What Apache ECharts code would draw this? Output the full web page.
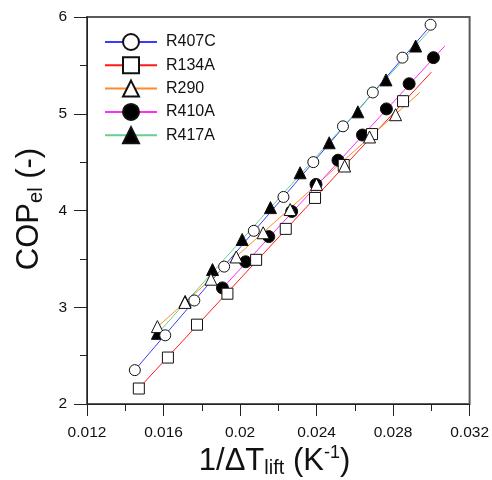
<!DOCTYPE html>
<html><head><meta charset="utf-8">
<script src="https://cdn.jsdelivr.net/npm/echarts@6/dist/echarts.min.js"></script>
<style>html,body{margin:0;padding:0;background:#fff}#c{width:492px;height:480px}</style>
</head><body><div id="c"></div>
<script>
const seriesNames = ['R407C', 'R134A', 'R290', 'R410A', 'R417A'];
// measured points [1/dT_lift, COP_el]
const r407cX = [0.0145, 0.01609, 0.01761, 0.01917, 0.02072, 0.02227, 0.02383, 0.02538, 0.02694, 0.02849, 0.02996];
const r407cY = [2.35, 2.71, 3.07, 3.42, 3.79, 4.14, 4.50, 4.87, 5.22, 5.58, 5.92];
const r134aX = [0.01471, 0.01623, 0.01775, 0.01934, 0.02084, 0.02239, 0.02392, 0.02542, 0.0269, 0.02852];
const r134aY = [2.16, 2.48, 2.82, 3.14, 3.49, 3.81, 4.13, 4.47, 4.79, 5.13];
const r290X = [0.01568, 0.01712, 0.01848, 0.0198, 0.02121, 0.02262, 0.024, 0.02547, 0.02677, 0.02813];
const r290Y = [2.80, 3.05, 3.29, 3.52, 3.77, 4.01, 4.27, 4.46, 4.76, 4.99];
const r410aX = [0.01908, 0.02029, 0.0215, 0.0227, 0.02397, 0.02512, 0.0264, 0.02765, 0.02884, 0.03011];
const r410aY = [3.20, 3.47, 3.73, 3.99, 4.27, 4.52, 4.78, 5.05, 5.31, 5.58];
const r417aX = [0.01568, 0.01713, 0.01856, 0.02011, 0.02159, 0.02314, 0.02466, 0.02616, 0.02763, 0.02918];
const r417aY = [2.73, 3.06, 3.39, 3.70, 4.03, 4.39, 4.70, 5.02, 5.35, 5.70];
// fitted lines: [start, end]
const fitR407cX = [0.0145, 0.0300];  const fitR407cY = [2.35, 5.92];
const fitR134aX = [0.0147, 0.0300];  const fitR134aY = [2.16, 5.43];
const fitR290X  = [0.0157, 0.0294];  const fitR290Y  = [2.80, 5.22];
const fitR410aX = [0.0191, 0.0307];  const fitR410aY = [3.20, 5.70];
const fitR417aX = [0.0157, 0.0299];  const fitR417aY = [2.73, 5.86];
const xTickLabels = ['0.012', '0.016', '0.02', '0.024', '0.028', '0.032'];
const yTickLabels = ['2', '3', '4', '5', '6'];

const zip = (xs, ys) => xs.map((x, i) => [x, ys[i]]);
const FONT = '"Liberation Sans", Arial, sans-serif';

const styles = {
  R407C: {line: '#3b3bff', symbol: 'circle', fill: '#ffffff', size: 11},
  R134A: {line: '#ff1a1a', symbol: 'rect', fill: '#ffffff', size: 11},
  R290:  {line: '#ff8a2a', symbol: 'triangle', fill: '#ffffff', size: 12},
  R410A: {line: '#ff2bff', symbol: 'circle', fill: '#000000', size: 12},
  R417A: {line: '#66d08e', symbol: 'triangle', fill: '#000000', size: 12}
};
const pts = {
  R407C: zip(r407cX, r407cY), R134A: zip(r134aX, r134aY), R290: zip(r290X, r290Y),
  R410A: zip(r410aX, r410aY), R417A: zip(r417aX, r417aY)
};
const fits = {
  R407C: zip(fitR407cX, fitR407cY), R134A: zip(fitR134aX, fitR134aY), R290: zip(fitR290X, fitR290Y),
  R410A: zip(fitR410aX, fitR410aY), R417A: zip(fitR417aX, fitR417aY)
};

const series = [];
seriesNames.forEach(n => {
  const s = styles[n];
  series.push({
    name: n, type: 'line', data: fits[n], showSymbol: false,
    symbol: s.symbol, symbolSize: s.size,
    lineStyle: {color: s.line, width: 1},
    itemStyle: {color: s.fill, borderColor: '#111', borderWidth: 1},
    animation: false, silent: true, z: 2
  });
});
['R417A', 'R410A', 'R134A', 'R290', 'R407C'].forEach(n => {
  const s = styles[n];
  series.push({
    name: n, type: 'scatter', data: pts[n], symbol: s.symbol, symbolSize: s.size,
    itemStyle: {color: s.fill, borderColor: '#111', borderWidth: 1, opacity: 1},
    animation: false, silent: true, z: 3
  });
});

const chart = echarts.init(document.getElementById('c'), null, {renderer: 'canvas'});
chart.setOption({
  animation: false,
  grid: {left: 87, right: 19, top: 17, bottom: 76, show: true, borderColor: '#5a5a5a', borderWidth: 2, containLabel: false},
  legend: {
    data: seriesNames, orient: 'vertical', left: 104, top: 33, padding: 0,
    itemWidth: 52, itemHeight: 20, itemGap: 5.3,
    textStyle: {fontFamily: FONT, fontSize: 16, color: '#111', padding: [0, 0, 0, 4]}
  },
  xAxis: {
    type: 'value', min: 0.012, max: 0.032, interval: 0.004,
    axisLine: {show: true, lineStyle: {color: '#222', width: 1}},
    axisTick: {show: true, inside: false, length: 12, lineStyle: {color: '#222'}},
    minorTick: {show: true, splitNumber: 2, length: 7, lineStyle: {color: '#222'}},
    splitLine: {show: false},
    axisLabel: {fontFamily: FONT, fontSize: 15.5, color: '#111', margin: 21,
      formatter: v => xTickLabels[Math.round((v - 0.012) / 0.004)]}
  },
  yAxis: {
    type: 'value', min: 2, max: 6, interval: 1,
    axisLine: {show: true, lineStyle: {color: '#222', width: 1}},
    axisTick: {show: true, inside: false, length: 13, lineStyle: {color: '#222'}},
    minorTick: {show: true, splitNumber: 2, length: 7, lineStyle: {color: '#222'}},
    splitLine: {show: false},
    axisLabel: {fontFamily: FONT, fontSize: 15.5, color: '#111', margin: 20,
      formatter: v => yTickLabels[Math.round(v - 2)]}
  },
  graphic: [
    {type: 'text', x: 274.5, y: 461.5, z: 10,
     style: {
       text: '{m|1/ΔT}{s|lift}{m| (K}{p|-1}{m|)}',
       x: 0, y: 0, align: 'center', verticalAlign: 'middle',
       fontFamily: FONT, fill: '#111',
       rich: {
         m: {fontSize: 31, fontFamily: FONT, lineHeight: 34, fill: '#111'},
         s: {fontSize: 20, fontFamily: FONT, lineHeight: 18, verticalAlign: 'bottom', fill: '#111'},
         p: {fontSize: 18, fontFamily: FONT, lineHeight: 22, verticalAlign: 'top', fill: '#111'}
       }
     }},
    {type: 'text', x: 29.5, y: 209, rotation: Math.PI / 2, z: 10,
     style: {
       text: '{m|COP}{s|el}{m| (-)}',
       x: 0, y: 0, align: 'center', verticalAlign: 'middle',
       fontFamily: FONT, fill: '#111',
       rich: {
         m: {fontSize: 31, fontFamily: FONT, lineHeight: 34, fill: '#111'},
         s: {fontSize: 20, fontFamily: FONT, lineHeight: 18, verticalAlign: 'bottom', fill: '#111'}
       }
     }}
  ],
  series: series
});
</script></body></html>
